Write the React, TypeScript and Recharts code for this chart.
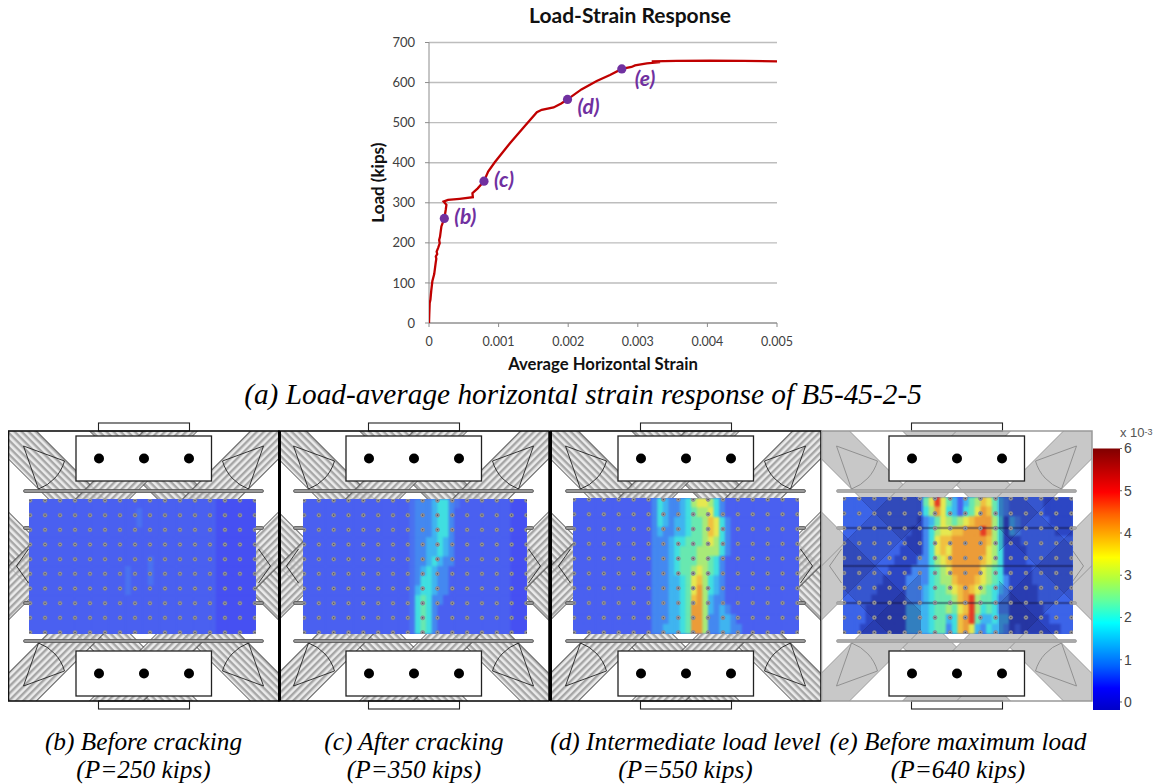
import React from 'react';
import { ScatterChart, Scatter, XAxis, YAxis, CartesianGrid, ReferenceArea } from 'recharts';

// ---------- load-strain chart data ----------
const curve = [
  { strain: 0, load: 0 }, { strain: 0.000004, load: 22 }, { strain: 0.00001, load: 50 },
  { strain: 0.00002, load: 58 }, { strain: 0.000032, load: 80 }, { strain: 0.000048, load: 104 },
  { strain: 0.000075, load: 122 }, { strain: 0.000096, load: 150 }, { strain: 0.000105, load: 160 },
  { strain: 0.000098, load: 166 }, { strain: 0.000118, load: 172 }, { strain: 0.00011, load: 178 },
  { strain: 0.00013, load: 187 }, { strain: 0.000154, load: 199 }, { strain: 0.000146, load: 207 }, { strain: 0.000158, load: 215 },
  { strain: 0.000178, load: 241 }, { strain: 0.00022, load: 261 }, { strain: 0.00024, load: 282 },
  { strain: 0.00025, load: 295 }, { strain: 0.00021, load: 303 }, { strain: 0.000273, load: 307 },
  { strain: 0.00044, load: 310 }, { strain: 0.00063, load: 314 }, { strain: 0.000624, load: 324 },
  { strain: 0.0007, load: 336 }, { strain: 0.00079, load: 354 }, { strain: 0.00085, load: 378 },
  { strain: 0.000945, load: 401 }, { strain: 0.00116, load: 448 }, { strain: 0.00138, load: 492 },
  { strain: 0.00155, load: 526 }, { strain: 0.00162, load: 532 }, { strain: 0.00179, load: 538 },
  { strain: 0.0019, load: 548 }, { strain: 0.00199, load: 558 }, { strain: 0.00219, load: 583 },
  { strain: 0.00241, load: 604 }, { strain: 0.0026, load: 619 }, { strain: 0.00277, load: 634 },
  { strain: 0.00291, load: 639 }, { strain: 0.00296, load: 643 }, { strain: 0.00313, load: 648 },
  { strain: 0.00332, load: 651 }, { strain: 0.0032, load: 653 }, { strain: 0.00356, load: 654 },
  { strain: 0.00404, load: 655 }, { strain: 0.00452, load: 654 }, { strain: 0.005, load: 653 },
];
const markers = [
  { strain: 0.00022, load: 261, tag: '(b)' },
  { strain: 0.00079, load: 354, tag: '(c)' },
  { strain: 0.00199, load: 558, tag: '(d)' },
  { strain: 0.00277, load: 634, tag: '(e)' },
];
const strainTicks = [0, 0.001, 0.002, 0.003, 0.004, 0.005];
const loadTicks = [0, 100, 200, 300, 400, 500, 600, 700];

// ---------- strain fields: 14 rows, 40 columns, one level per character ----------
const midB = [
  '0000000000000000', '00000~0000000000', '00000~0000000000', '0000000000000000',
  '0000000000000000', '0000000000000000', '0000000~00000000', '000~000~00000000',
  '000~000~00000000', '000~000000000000', '0000000000000000', '0000000000000000',
  '0000000000000000', '0000000000000000',
];
const midC = [
  '00000~1112331~00', '00000~1112331000', '00000~1112331000', '00000~1112331000',
  '00000~1122321000', '00000~1122321000', '00000~1123211000', '00000~1232110000',
  '00000~1332110000', '00000~2332110000', '00000~3431100000', '00000~3431000000',
  '00000~3431000000', '00000~3431000000',
];
const midD = [
  '1321123566531000', '1321123455631000', '1321223445763100', '1211223445763100',
  '1112334445653100', '1112344455553100', '1112344455431000', '1112344565431000',
  '1112234675321000', '1112234685321000', '1112234785211000', '1112234885212100',
  '1112234885112210', '1122234885112211',
];
const preE = [
  'aaaaaaaaaaaaaa', 'aaaaaaaaaaaaaa', 'aaaaaaaaaaaaan', 'aaaaaaaaaaaann', 'aaaaaaaaaaannn', 'aaaaaaaaaannnn', 'aaaaaaaaannnn1',
  'aaaaaaaannnn11', 'aaaaaaannnn111', 'aaaaaannnnn111', 'aaaaannnnnn111', 'aaaannnnnnn222', 'aaaannnnnnn222', 'aaannnnnnnn222',
];
const midE = [
  '469642024576421a', '358632034687421a', '12465456788853n2', '13566778889853n2',
  '13677888888753nn', '13676888888653nn', '13567888887653nn', '13456888886543nn',
  '134557888765431n', '234456787654321n', '234445789544311n', '234454679534311n',
  '234423789422322n', '234413786213221n',
];
const sufE = [
  'aaaaannnnn', 'aaaaannnnn', '1aaaaannnn', '1aaaaaannn', 'naaaaaaaaa', 'nnaaaaaaaa', 'nnaaaaaaaa',
  'nnnaaaaaaa', 'nnnaaaaaaa', 'nnnnaaaaaa', 'nnnnaaaaaa', 'nnnnnaaaaa', 'nnnnnnaaaa', 'annnnnnnaa',
];
const levelColors: Record<string, string> = {
  '-': '#4650f2', a: '#3c64e8', n: '#2c46c4', '0': '#4a60f0', '~': '#4a72f0', '1': '#4488f0', '2': '#3fb4f0',
  '3': '#40dfe0', '4': '#68e8b0', '5': '#a8ea78', '6': '#e6e850', '7': '#f0c040', '8': '#ec9c38', '9': '#e63c25',
};
const gaugeColumns = [0, 1, 2, 3, 4, 5, 6, 7, 8, 9, 10, 11, 12, 13, 14, 15];
const gaugeRows = [0, 1, 2, 3, 4, 5, 6, 7, 8, 9];
const jetStops = ['#800000', '#c00000', '#ff0000', '#ff6000', '#ffb000', '#ffff00', '#b0ff40', '#60ffa0', '#00ffff', '#00b0ff', '#0060ff', '#0000ff', '#0000c8'];
const barTicks = [0, 1, 2, 3, 4, 5, 6];

const zeros14 = '00000000000000';
const panels = [
  { id: 'b', frame: 8, sx: 29, sw: 227, sy: 499, sh: 135, rows: midB.map((m) => zeros14 + m + '000-------'), base: '0', plain: false },
  { id: 'c', frame: 278.5, sx: 302.5, sw: 224.5, sy: 499, sh: 135, rows: midC.map((m) => zeros14 + m + '0000000---'), base: '0', plain: false },
  { id: 'd', frame: 550, sx: 573, sw: 225.5, sy: 498, sh: 136, rows: midD.map((m) => zeros14 + m + '0000000000'), base: '0', plain: false },
  { id: 'e', frame: 821, sx: 843, sw: 229.5, sy: 497, sh: 137, rows: midE.map((m, i) => preE[i] + m + sufE[i]), base: 'a', plain: true },
];
const captions = [
  { cx: 143.5, a: '(b) Before cracking', b: '(P=250 kips)' },
  { cx: 414, a: '(c) After cracking', b: '(P=350 kips)' },
  { cx: 685.5, a: '(d) Intermediate load level', b: '(P=550 kips)' },
  { cx: 958, a: '(e) Before maximum load', b: '(P=640 kips)' },
];

// ---------- rig drawing ----------
const diagA = [[-28, 28], [81, 135], [-135, -81]];
const diagB = [[242, 298], [135, 189], [351, 405]];
const bandA = ([a, b]: number[]) => `${a - 50},-50 ${a + 320},320 ${b + 320},320 ${b - 50},-50`;
const bandB = ([a, b]: number[]) => `${a + 50},-50 ${a - 320},320 ${b - 320},320 ${b + 50},-50`;
const wedge = 'M15,15 L56,30 A42,42 0 0 1 30,58 Z';
const sideDart = 'M20,118 L8,135 L20,152';

function Rig({ id, left, plain }: { id: string; left: number; plain: boolean }) {
  const edge = plain ? '#8a8a8a' : '#222';
  const wedges = (
    <g fill="none" stroke={edge} strokeWidth={0.9}>
      <path d={wedge} />
      <path d={wedge} transform="translate(270,0) scale(-1,1)" />
      <path d={wedge} transform="translate(0,270) scale(1,-1)" />
      <path d={wedge} transform="translate(270,270) scale(-1,-1)" />
      <path d={sideDart} />
      <path d={sideDart} transform="translate(270,0) scale(-1,1)" />
    </g>
  );
  const fillA = plain ? '#c8c8c8' : `url(#ha-${id})`;
  const fillB = plain ? '#c8c8c8' : `url(#hb-${id})`;
  const rod = (y: number, x1 = 15, x2 = 255) => (
    <rect x={x1} y={y - 1.5} width={x2 - x1} height={3} rx={1.5} fill={plain ? '#aaa' : '#999'} stroke={plain ? '#999' : '#444'} strokeWidth={0.7} />
  );
  const block = (y: number) => (
    <g>
      <rect x={67.5} y={y} width={135.5} height={45} fill="#fff" stroke="#222" strokeWidth={1.3} />
      {[90.5, 135.5, 180.5].map((h) => <circle key={h} cx={h} cy={y + 22.5} r={5} fill="#000" />)}
    </g>
  );
  return (
    <svg style={{ position: 'absolute', left, top: 420 }} width={272} height={292}>
      <defs>
        <pattern id={`ha-${id}`} width={5} height={5} patternUnits="userSpaceOnUse" patternTransform="rotate(45)">
          <rect width={5} height={5} fill="#e4e4e4" fillOpacity={0.75} />
          <rect width={5} height={2.4} fill="#8f8f8f" fillOpacity={0.75} />
        </pattern>
        <pattern id={`hb-${id}`} width={5} height={5} patternUnits="userSpaceOnUse" patternTransform="rotate(-45)">
          <rect width={5} height={5} fill="#e4e4e4" fillOpacity={0.75} />
          <rect width={5} height={2.4} fill="#8f8f8f" fillOpacity={0.75} />
        </pattern>
        <clipPath id={`cf-${id}`}><rect x={0} y={0} width={270.5} height={270} /></clipPath>
      </defs>
      <g transform="translate(0.5,11)">
        <g clipPath={`url(#cf-${id})`}>
          {diagA.map((d) => <polygon key={d[0]} points={bandA(d)} fill={fillA} stroke={edge} strokeWidth={0.8} />)}
          {diagB.map((d) => <polygon key={d[0]} points={bandB(d)} fill={fillB} stroke={edge} strokeWidth={0.8} />)}
          {wedges}
        </g>
        {rod(60)}
        {rod(210)}
        {rod(97, 15, 40)}{rod(97, 230, 255)}
        {rod(172, 15, 40)}{rod(172, 230, 255)}
        <rect x={90} y={-8} width={91} height={8} fill="#fff" stroke="#222" strokeWidth={1.1} />
        <rect x={90} y={270} width={91} height={8} fill="#fff" stroke="#222" strokeWidth={1.1} />
        {block(5)}
        {block(220)}
        <rect x={0} y={0} width={270.5} height={270} fill="none" stroke={plain ? '#999' : '#111'} strokeWidth={plain ? 1.5 : 1.6} />
      </g>
    </svg>
  );
}

// translucent rig seen through the last panel
function Overlay({ left, top, w, h, fx }: { left: number; top: number; w: number; h: number; fx: number }) {
  const shade = (op: number) => (
    <g fill={`rgba(25,20,95,${op})`} stroke="rgba(20,20,70,0.3)" strokeWidth={0.7}>
      {diagA.map((d) => <polygon key={d[0]} points={bandA(d)} />)}
      {diagB.map((d) => <polygon key={d[0]} points={bandB(d)} />)}
    </g>
  );
  const originX = fx - left;
  const originY = 431 - top;
  return (
    <svg style={{ position: 'absolute', left, top }} width={w} height={h}>
      <defs>
        <clipPath id="ovL"><rect x={0} y={0} width={w * 0.34} height={h} /></clipPath>
        <clipPath id="ovR"><rect x={w * 0.68} y={0} width={w * 0.32} height={h} /></clipPath>
      </defs>
      <g clipPath="url(#ovL)"><g transform={`translate(${originX},${originY})`}>{shade(0.18)}</g></g>
      <g clipPath="url(#ovR)"><g transform={`translate(${originX},${originY})`}>{shade(0.18)}</g></g>
      <g transform={`translate(${originX},${originY})`}>
        <g stroke="rgba(20,20,60,0.4)" strokeWidth={2.4}>
          <line x1={-20} x2={300} y1={97} y2={97} />
          <line x1={-20} x2={300} y1={135} y2={135} />
          <line x1={-20} x2={300} y1={172} y2={172} />
        </g>
      </g>
    </svg>
  );
}

function Field({ sw, sh, rows, sx, sy, base }: any) {
  const cells = rows.flatMap((r: string, row: number) =>
    r.split('').map((lv, col) => ({ col: col + 0.5, row: row + 0.5, lv })));
  const cw = sw / 40 + 0.7;
  const ch = sh / 14 + 0.7;
  return (
    <div style={{ position: 'absolute', left: sx, top: sy, width: sw, height: sh, overflow: 'hidden', background: base }}>
      <div style={{ filter: 'blur(0.9px)', width: sw, height: sh }}>
        <ScatterChart width={sw} height={sh} margin={{ top: 0, right: 0, bottom: 0, left: 0 }}>
          <XAxis type="number" dataKey="col" domain={[0, 40]} hide />
          <YAxis type="number" dataKey="row" domain={[0, 14]} reversed hide />
          <Scatter
            data={cells}
            isAnimationActive={false}
            shape={(p: any) => <rect x={p.cx - cw / 2} y={p.cy - ch / 2} width={cw} height={ch} fill={levelColors[p.payload.lv]} />}
          />
        </ScatterChart>
      </div>
    </div>
  );
}

function Gauges({ sx, sy, sw, sh }: any) {
  const pts = gaugeRows.flatMap((r) => gaugeColumns.map((c) => ({ c, r })));
  return (
    <div style={{ position: 'absolute', left: sx, top: sy, width: sw, height: sh }}>
      <ScatterChart width={sw} height={sh} margin={{ top: 0, right: 0, bottom: 0, left: 0 }}>
        <XAxis type="number" dataKey="c" domain={[-0.07, 15.07]} hide />
        <YAxis type="number" dataKey="r" domain={[-0.1, 9.1]} reversed hide />
        <Scatter
          data={pts}
          isAnimationActive={false}
          shape={(p: any) => (
            <g>
              <circle cx={p.cx} cy={p.cy} r={2} fill="#9a9aa4" stroke="#80808a" strokeWidth={0.6} />
              <circle cx={p.cx} cy={p.cy} r={0.8} fill="#555" />
            </g>
          )}
        />
      </ScatterChart>
    </div>
  );
}

const labelOffset: Record<string, [number, number]> = { '(b)': [10, 6], '(c)': [10, 6], '(d)': [10, 15], '(e)': [13, 17] };
const labelFont = 'Lato, "Open Sans", sans-serif';

export default function App() {
  return (
    <div style={{ position: 'absolute', left: 0, top: 0, width: 1154, height: 784, overflow: 'hidden', background: '#fff' }}>
      <div style={{ position: 'absolute', left: 430, width: 400, top: 2, textAlign: 'center', font: `bold 21px ${labelFont}`, color: '#111' }}>
        Load-Strain Response
      </div>
      <div style={{ position: 'absolute', left: 360, top: 0 }}>
        <ScatterChart width={460} height={380} margin={{ top: 42.5, right: 43, bottom: 27, left: 0 }}>
          <CartesianGrid vertical={false} stroke="#bdbdbd" strokeWidth={1.4} />
          <XAxis
            type="number" dataKey="strain" domain={[0, 0.005]} ticks={strainTicks}
            tickFormatter={(v: number) => String(v)} tick={{ fill: '#404040', fontSize: 12.5, fontFamily: labelFont }}
            stroke="#8c8c8c" tickSize={4} tickMargin={10} allowDataOverflow
            label={{ value: 'Average Horizontal Strain', position: 'bottom', offset: 5, style: { fontFamily: labelFont, fontWeight: 700, fontSize: 16.7, fill: '#111' } }}
          />
          <YAxis
            type="number" dataKey="load" domain={[0, 700]} ticks={loadTicks}
            tick={{ fill: '#404040', fontSize: 13, fontFamily: labelFont }} stroke="#8c8c8c" tickSize={4} tickMargin={10} width={69}
            label={{ value: 'Load (kips)', angle: -90, position: 'insideLeft', dx: 13, dy: 40, style: { fontFamily: labelFont, fontWeight: 700, fontSize: 17, fill: '#111' } }}
          />
          <Scatter data={curve} isAnimationActive={false} line={{ stroke: '#c00000', strokeWidth: 2.3 }} shape={() => <g />} />
          <Scatter
            data={markers}
            isAnimationActive={false}
            shape={(p: any) => {
              const [dx, dy] = labelOffset[p.payload.tag];
              return (
                <g>
                  <circle cx={p.cx} cy={p.cy} r={4.6} fill="#7030a0" />
                  <text x={p.cx + dx} y={p.cy + dy} fill="#7030a0" fontFamily={labelFont} fontWeight={700} fontStyle="italic" fontSize={21}>{p.payload.tag}</text>
                </g>
              );
            }}
          />
        </ScatterChart>
      </div>

      <div style={{ position: 'absolute', left: 0, width: 1166, top: 378, textAlign: 'center', font: 'italic 29.3px "Liberation Serif", serif', color: '#000', whiteSpace: 'nowrap' }}>
        (a) Load-average horizontal strain response of B5-45-2-5
      </div>

      {panels.map((p) => <Rig key={p.id} id={p.id} left={p.frame - 0.5} plain={p.plain} />)}
      {panels.map((p) => (
        <React.Fragment key={p.id}>
          <Field sx={p.sx} sy={p.sy} sw={p.sw} sh={p.sh} rows={p.rows} base={levelColors[p.base]} />
          {p.plain && <Overlay left={p.sx} top={p.sy} w={p.sw} h={p.sh} fx={p.frame} />}
          <Gauges sx={p.sx} sy={p.sy} sw={p.sw} sh={p.sh} />
        </React.Fragment>
      ))}
      <div style={{ position: 'absolute', left: 277.5, top: 431, width: 3, height: 270, background: '#000' }} />
      <div style={{ position: 'absolute', left: 549, top: 431, width: 3, height: 270, background: '#000' }} />

      <div style={{ position: 'absolute', left: 1093, top: 440 }}>
        <ScatterChart width={50} height={272} margin={{ top: 8.5, right: 0, bottom: 2, left: 0 }}>
          <defs>
            <linearGradient id="jet" x1="0" y1="0" x2="0" y2="1">
              {jetStops.map((c, i) => <stop key={c} offset={i / (jetStops.length - 1)} stopColor={c} />)}
            </linearGradient>
          </defs>
          <XAxis type="number" dataKey="x" domain={[0, 1]} hide />
          <YAxis
            type="number" dataKey="y" orientation="right" domain={[-0.19, 6]} ticks={barTicks} width={23}
            axisLine={false} tickSize={2} stroke="#666" tick={{ fill: '#444', fontSize: 14, fontFamily: '"Liberation Sans", sans-serif' }}
          />
          <ReferenceArea x1={0} x2={1} y1={-0.19} y2={6} fill="url(#jet)" fillOpacity={1} stroke="none" />
          <Scatter data={barTicks.map((y) => ({ x: 0.5, y }))} isAnimationActive={false} shape={() => <g />} />
        </ScatterChart>
      </div>
      <div style={{ position: 'absolute', left: 1120, top: 426, font: '13px/13px "Liberation Sans", sans-serif', color: '#555', whiteSpace: 'nowrap' }}>
        x 10<sup style={{ fontSize: 9, lineHeight: '9px', position: 'relative', top: -2, verticalAlign: 'baseline' }}>-3</sup>
      </div>

      {captions.map((c) => (
        <div key={c.a} style={{ position: 'absolute', left: c.cx - 200, width: 400, top: 727, textAlign: 'center', font: 'italic 25.3px/28px "Liberation Serif", serif', color: '#000' }}>
          {c.a}<br />{c.b}
        </div>
      ))}
    </div>
  );
}
